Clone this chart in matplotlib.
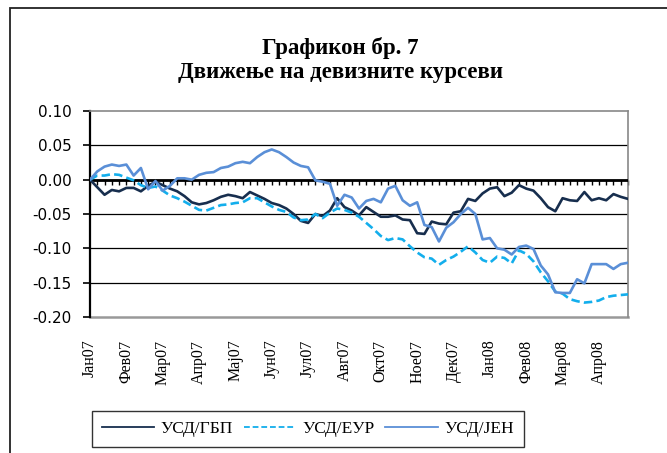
"""Exchange rate movements chart (Графикон бр. 7)."""
import matplotlib
matplotlib.use("Agg")
import matplotlib.pyplot as plt
from matplotlib.patches import Rectangle
from matplotlib.transforms import blended_transform_factory

plt.rcParams["axes.unicode_minus"] = False

title = "Графикон бр. 7\nДвижење на девизните курсеви"
series_names = ["УСД/ГБП", "УСД/ЕУР", "УСД/ЈЕН"]
month_labels = ["Јан07", "Фев07", "Мар07", "Апр07", "Мај07", "Јун07", "Јул07",
                "Авг07", "Окт07", "Ное07", "Дек07", "Јан08", "Фев08", "Мар08",
                "Апр08"]
label_step = 5

usd_gbp = [0.000, -0.011, -0.022, -0.015, -0.017, -0.012, -0.012, -0.017, -0.009, -0.003,
           -0.008, -0.013, -0.017, -0.024, -0.033, -0.036, -0.034, -0.030, -0.025, -0.022,
           -0.024, -0.027, -0.018, -0.023, -0.028, -0.034, -0.037, -0.042, -0.050, -0.060,
           -0.063, -0.050, -0.053, -0.045, -0.027, -0.040, -0.045, -0.052, -0.040, -0.047,
           -0.054, -0.054, -0.052, -0.058, -0.059, -0.078, -0.079, -0.061, -0.064, -0.065,
           -0.048, -0.046, -0.028, -0.031, -0.020, -0.013, -0.011, -0.024, -0.019, -0.008,
           -0.013, -0.016, -0.027, -0.040, -0.046, -0.027, -0.030, -0.031, -0.018, -0.030,
           -0.027, -0.030, -0.021, -0.025, -0.028]
usd_eur = [0.000, 0.006, 0.006, 0.008, 0.007, 0.003, -0.001, -0.008, -0.012, -0.010,
           -0.016, -0.023, -0.027, -0.032, -0.038, -0.044, -0.045, -0.041, -0.037, -0.036,
           -0.034, -0.033, -0.027, -0.027, -0.033, -0.039, -0.044, -0.047, -0.055, -0.059,
           -0.058, -0.050, -0.056, -0.048, -0.042, -0.044, -0.048, -0.054, -0.063, -0.072,
           -0.082, -0.088, -0.085, -0.087, -0.097, -0.106, -0.113, -0.115, -0.124, -0.117,
           -0.112, -0.105, -0.097, -0.106, -0.117, -0.121, -0.112, -0.114, -0.122, -0.103,
           -0.108, -0.119, -0.135, -0.148, -0.163, -0.166, -0.174, -0.177, -0.179, -0.178,
           -0.176, -0.171, -0.169, -0.168, -0.167]
usd_jpy = [0.000, 0.012, 0.019, 0.022, 0.020, 0.022, 0.006, 0.017, -0.014, -0.002,
           -0.016, -0.009, 0.002, 0.002, 0.000, 0.007, 0.010, 0.011, 0.017, 0.019,
           0.024, 0.026, 0.024, 0.033, 0.040, 0.044, 0.040, 0.033, 0.025, 0.020,
           0.018, -0.001, -0.003, -0.006, -0.038, -0.022, -0.026, -0.042, -0.031, -0.028,
           -0.033, -0.013, -0.009, -0.030, -0.038, -0.033, -0.066, -0.069, -0.090, -0.070,
           -0.062, -0.050, -0.041, -0.050, -0.087, -0.085, -0.100, -0.102, -0.109, -0.098,
           -0.096, -0.101, -0.125, -0.138, -0.164, -0.165, -0.165, -0.145, -0.151, -0.123,
           -0.123, -0.123, -0.130, -0.123, -0.121]

y_ticks = [0.10, 0.05, 0.00, -0.05, -0.10, -0.15, -0.20]

serif = ["Liberation Serif", "DejaVu Serif"]
sans = ["DejaVu Sans"]

fig = plt.figure(figsize=(6.67, 4.53), dpi=100)
fig.patches.append(Rectangle((10 / 667, -0.1), 1.2, 1 - 8 / 453 + 0.1,
                             transform=fig.transFigure, fill=False,
                             edgecolor="#222222", linewidth=1.3))
ax = fig.add_axes([90 / 667, 1 - 317 / 453, 538 / 667, 206 / 453])

x = list(range(len(usd_gbp)))
ax.plot(x, usd_gbp, color="#172E4E", lw=1.9, label=series_names[0], zorder=4)
ax.plot(x, usd_eur, color="#13AEEC", lw=1.9, ls=(0, (3.2, 1.6)),
        label=series_names[1], zorder=4)
ax.plot(x, usd_jpy, color="#5A8FD7", lw=1.9, label=series_names[2], zorder=5)

ax.set_xlim(0, len(x) - 1)
ax.set_ylim(-0.20, 0.10)
ax.set_yticks(y_ticks)
ax.set_yticklabels([f"{v:.2f}" for v in y_ticks], family=sans, fontsize=11)
ax.tick_params(axis="y", direction="out", length=5, width=1.2, pad=8)

for v in y_ticks[1:-1]:
    ax.axhline(v, color="black", lw=0.9, zorder=1)
ax.axhline(0.0, color="black", lw=2.0, zorder=3)

# category axis crosses at zero, labels sit below the plot
ax.spines["bottom"].set_position(("data", 0))
ax.spines["bottom"].set_visible(False)
ax.set_xticks(x)
ax.set_xticklabels([])
ax.tick_params(axis="x", direction="out", length=3.5, width=1.0)
ax.spines["left"].set_linewidth(1.6)
for side in ("top", "right"):
    ax.spines[side].set_color("#888888")
    ax.spines[side].set_linewidth(1.2)
ax.axhline(-0.20, color="#999999", lw=1.8, zorder=2, clip_on=False)

trans = blended_transform_factory(ax.transData, ax.transAxes)
for k, lab in enumerate(month_labels):
    ax.text(k * label_step, -0.11, lab, transform=trans, rotation=90,
            ha="center", va="top", family=serif, fontsize=11.5)

fig.text(340 / 667, 1 - 60 / 453, title, ha="center", va="center",
         family=serif, fontsize=16.5, fontweight="bold", linespacing=1.2)

leg = fig.legend(loc="center", bbox_to_anchor=(308 / 667, 1 - 429 / 453),
                 ncol=3, frameon=True, fancybox=False, edgecolor="black",
                 prop={"family": serif, "size": 12.5}, handlelength=3.0,
                 columnspacing=0.6, handletextpad=0.4, borderpad=0.55)
leg.get_frame().set_linewidth(1.0)
for line in leg.get_lines():
    line.set_linewidth(1.3)

fig.savefig("out.png", dpi=100)
